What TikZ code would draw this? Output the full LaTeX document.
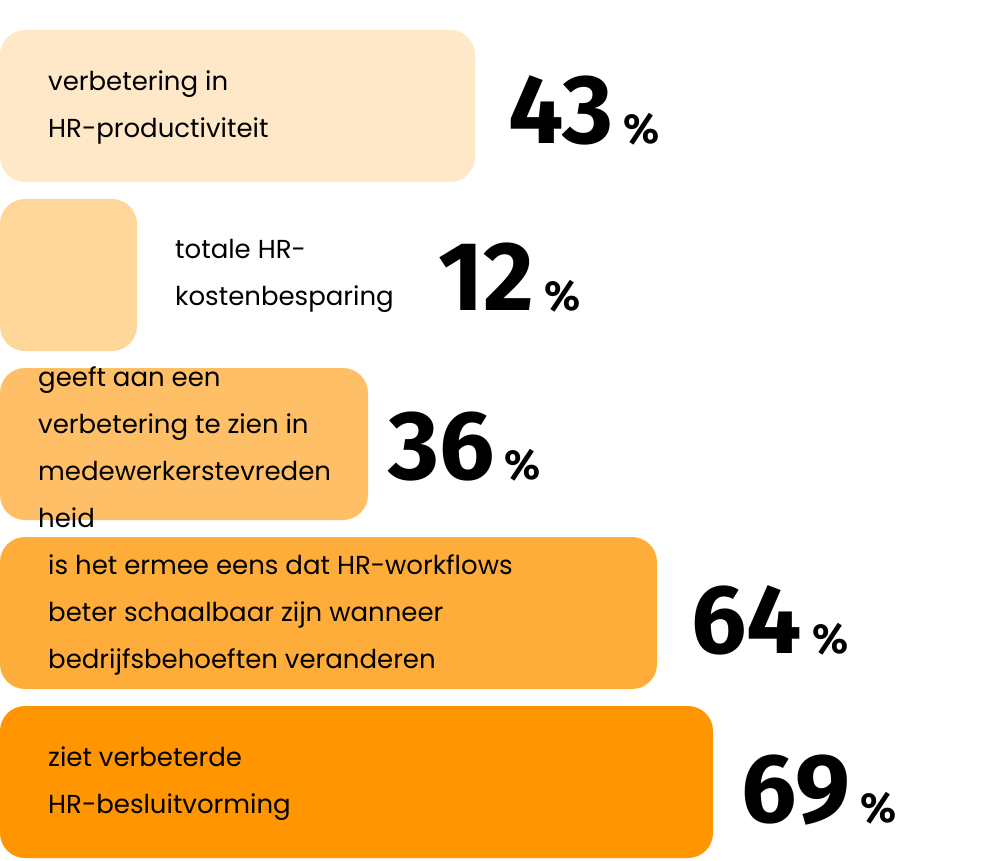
\documentclass[tikz,border=0pt]{standalone}
\usepackage{fontspec}
\setmainfont{Poppins}
\newfontfamily\numfont{Fira Sans}
\usetikzlibrary{positioning}

\definecolor{barA}{HTML}{FFE8C8}
\definecolor{barB}{HTML}{FFD699}
\definecolor{barC}{HTML}{FFBF66}
\definecolor{barD}{HTML}{FFAD3A}
\definecolor{barE}{HTML}{FF9500}

\begin{document}
\begin{tikzpicture}[
            x = 1pt, y = -1pt, % pixel grid, y downwards
            bar/.style = {rounded corners = 25pt},
            label/.style = {anchor = west, align = left, inner sep = 0pt,
                font = \fontsize{26}{47}\selectfont},
            big/.style = {anchor = west, inner sep = 0pt,
                font = \numfont\fontsize{98}{98}\selectfont\bfseries},
            pct/.style = {right = 10pt of #1.base east, anchor = base west, inner sep = 0pt,
                font = \numfont\fontsize{42}{42}\selectfont\bfseries}
        ]

        \useasboundingbox (0,0) rectangle (1000,860);

        % bars
        \fill[bar, barA] (0,30) rectangle (475,182);
        \fill[bar, barB] (0,199) rectangle (137,351);
        \fill[bar, barC] (0,368) rectangle (368,520);
        \fill[bar, barD] (0,537) rectangle (657,689);
        \fill[bar, barE] (0,706) rectangle (713,858);

        % texts
        \node[label] (tA) at (48,107) {verbetering in\\HR-productiviteit};
        \node[label] (tB) at (175,276) {totale HR-\\kostenbesparing};
        \node[label] (tC) at (38,447) {geeft aan een\\verbetering te zien in\\medewerkerstevreden\\heid};
        \node[label] (tD) at (48,615) {is het ermee eens dat HR-workflows\\beter schaalbaar zijn wanneer\\bedrijfsbehoeften veranderen};
        \node[label] (tE) at (48,784) {ziet verbeterde\\HR-besluitvorming};

        % numbers
        \node[big] (nA) at (508,110) {43};
        \node[big] (nB) at (438,277) {12};
        \node[big] (nC) at (388,447) {36};
        \node[big] (nD) at (691,620) {64};
        \node[big] (nE) at (741,790) {69};

        \node[pct=nA] (pA) {\%};
        \node[pct=nB] (pB) {\%};
        \node[pct=nC] (pC) {\%};
        \node[pct=nD] (pD) {\%};
        \node[pct=nE] (pE) {\%};

  \end{tikzpicture}
\end{document}
